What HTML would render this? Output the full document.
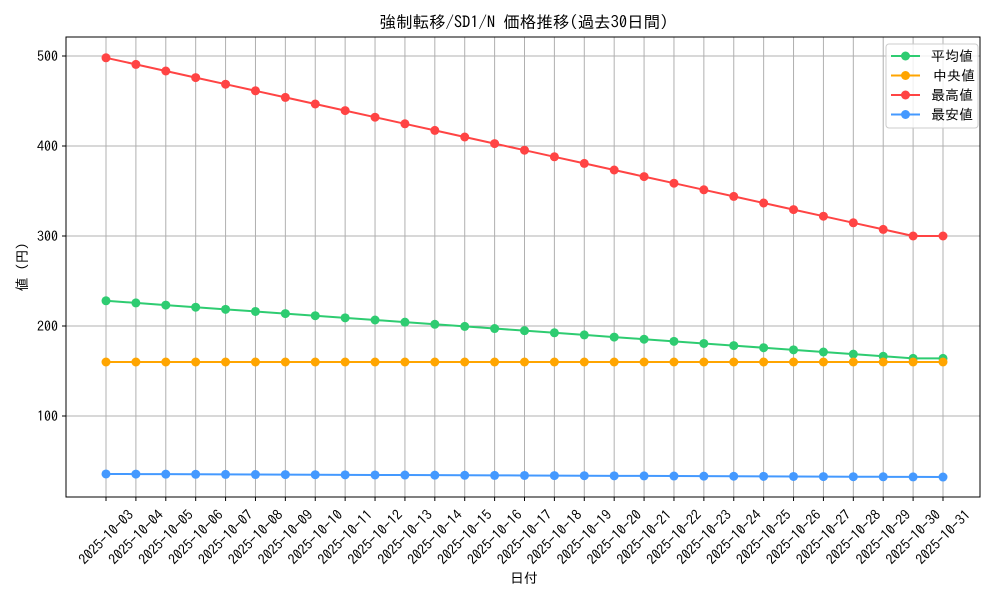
<!DOCTYPE html>
<html><head><meta charset="utf-8"><style>
html,body{margin:0;padding:0;background:#fff;}
svg{display:block;font-family:"IPAGothic","Liberation Sans","Noto Sans CJK JP",sans-serif;}
</style></head><body>
<svg id="c" width="1000" height="600" xmlns="http://www.w3.org/2000/svg"></svg>
<script>
const s=document.getElementById('c');let h='';
const L=66,R=980,T=37,B=497;
const X=i=>106+i*(943-106)/28, Y=v=>56+(500-v)*0.9;
h+=`<rect x="0" y="0" width="1000" height="600" fill="#fff"/>`;
for(let i=0;i<29;i++){h+=`<line x1="${X(i)}" y1="${T}" x2="${X(i)}" y2="${B}" stroke="#b0b0b0" stroke-width="1"/>`;}
for(const v of [100,200,300,400,500]){h+=`<line x1="${L}" y1="${Y(v)}" x2="${R}" y2="${Y(v)}" stroke="#b0b0b0" stroke-width="1"/>`;
h+=`<line x1="${L-4}" y1="${Y(v)}" x2="${L}" y2="${Y(v)}" stroke="#000"/>`;
h+=`<text x="${L-8}" y="${Y(v)+5}" font-size="14" text-anchor="end">${v}</text>`;}
function ser(vals,col){let p=vals.map((v,i)=>`${X(i)},${Y(v)}`).join(' ');
let o=`<polyline points="${p}" fill="none" stroke="${col}" stroke-width="2"/>`;
vals.forEach((v,i)=>o+=`<circle cx="${X(i)}" cy="${Y(v)}" r="4.5" fill="${col}"/>`);return o;}
const mx=[],av=[],md=[],mn=[];
for(let i=0;i<29;i++){const k=Math.min(i,27);mx.push(498-k*198/27);av.push(228-k*64/27);md.push(160);mn.push(35.6-i*3.4/28);}
h+=ser(av,'#2ecc71')+ser(md,'#ffa500')+ser(mx,'#ff4444')+ser(mn,'#4499ff');
h+=`<rect x="${L}" y="${T}" width="${R-L}" height="${B-T}" fill="none" stroke="#000" stroke-width="1"/>`;
for(let i=0;i<29;i++){const d=String(3+i).padStart(2,'0');
h+=`<line x1="${X(i)}" y1="${B}" x2="${X(i)}" y2="${B+4}" stroke="#000"/>`;
h+=`<text transform="translate(${X(i)},537) rotate(-45)" y="5" font-size="14" text-anchor="middle">2025-10-${d}</text>`;}
h+=`<text x="524" y="28" font-size="16.5" text-anchor="middle">強制転移/SD1/N 価格推移(過去30日間)</text>`;
h+=`<text x="524" y="583" font-size="14" text-anchor="middle">日付</text>`;
h+=`<text transform="translate(27,267) rotate(-90)" font-size="14" text-anchor="middle">値 (円)</text>`;
h+=`<rect x="886" y="44" width="92" height="84" rx="3" fill="#fff" fill-opacity="0.8" stroke="#ccc"/>`;
const lg=[['平均値','#2ecc71'],['中央値','#ffa500'],['最高値','#ff4444'],['最安値','#4499ff']];
lg.forEach((e,j)=>{const y=56+j*19.5;h+=`<line x1="891" y1="${y}" x2="920" y2="${y}" stroke="${e[1]}" stroke-width="2"/><circle cx="905.5" cy="${y}" r="4.5" fill="${e[1]}"/><text x="${j==1?933:931}" y="${y+5}" font-size="14">${e[0]}</text>`;});
s.innerHTML=h;
</script>
</body></html>
